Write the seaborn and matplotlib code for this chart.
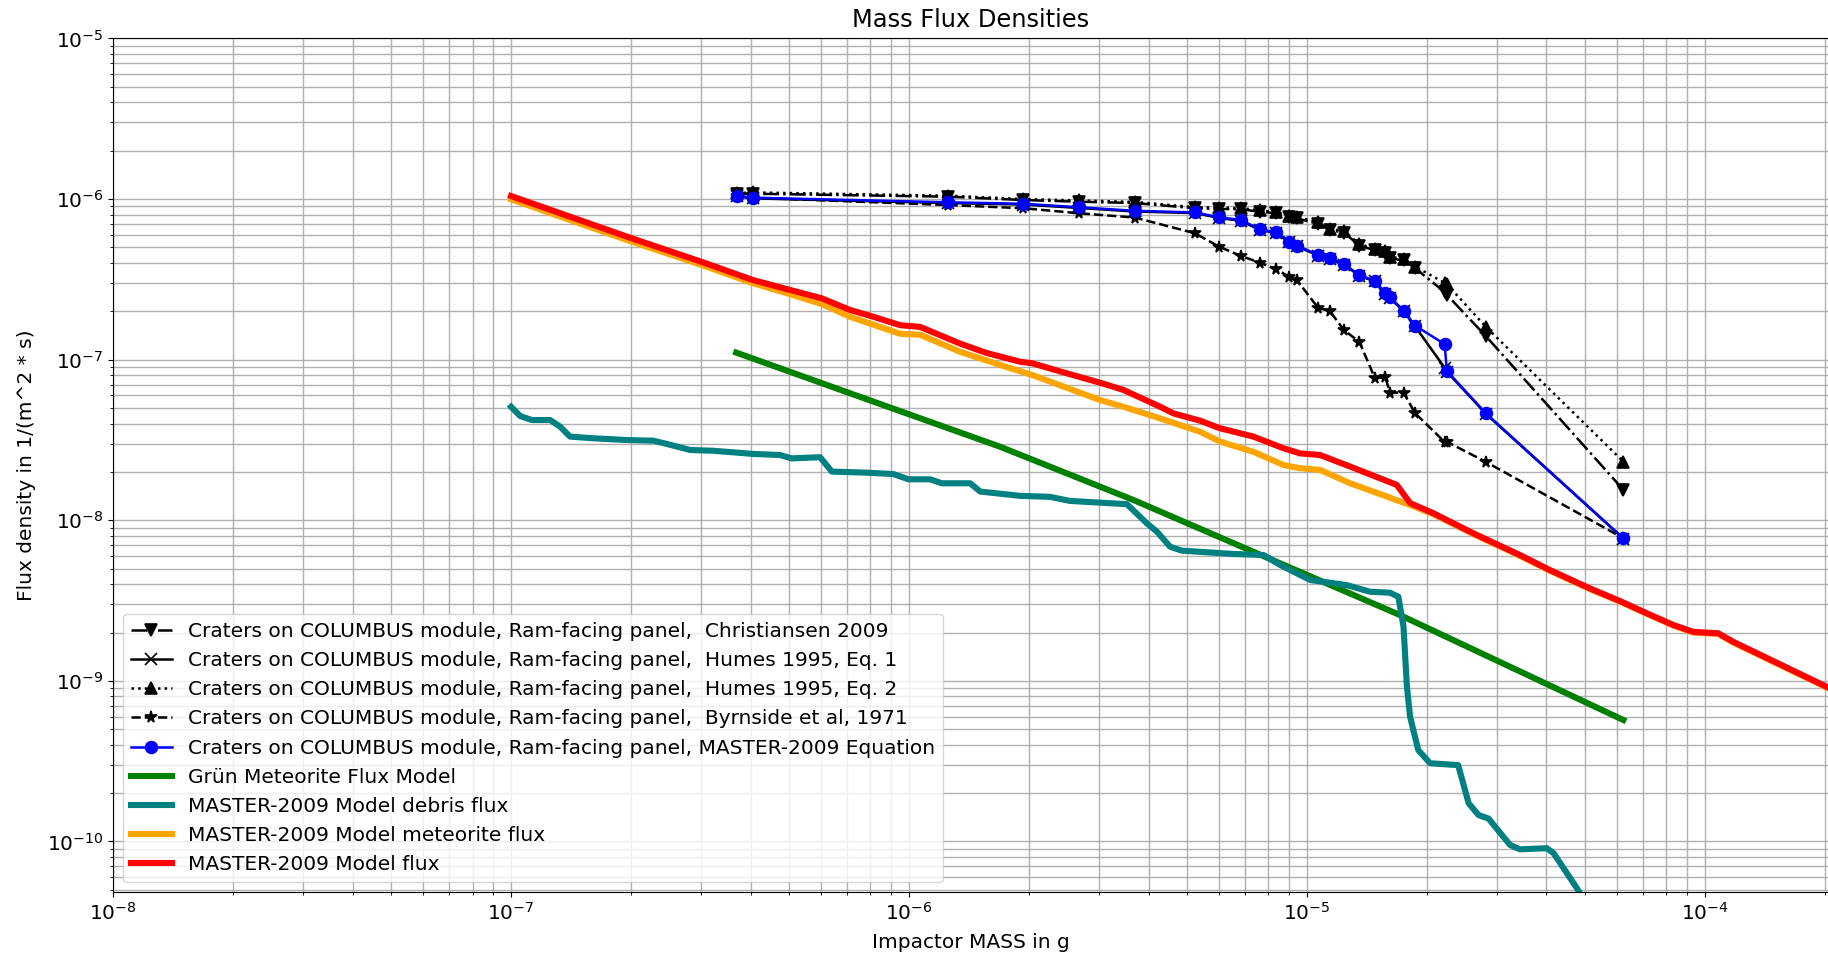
import matplotlib
matplotlib.use("Agg")
import matplotlib.pyplot as plt
import seaborn as sns

# ---- crater-derived series (shared mass values) ----
crater_mass = [3.69e-7, 4.06e-7, 1.256e-6, 1.94e-6, 2.68e-6, 3.70e-6, 5.24e-6, 6.01e-6,
               6.82e-6, 7.62e-6, 8.38e-6, 9.04e-6, 9.44e-6, 1.069e-5, 1.140e-5, 1.239e-5,
               1.355e-5, 1.483e-5, 1.574e-5, 1.618e-5, 1.750e-5, 1.871e-5, 2.218e-5,
               2.249e-5, 2.818e-5, 6.24e-5]
christiansen_flux = [1.08e-6, 1.08e-6, 1.035e-6, 9.86e-7, 9.63e-7, 9.45e-7, 8.77e-7, 8.68e-7,
                     8.64e-7, 8.35e-7, 8.16e-7, 7.77e-7, 7.59e-7, 7.00e-7, 6.42e-7, 6.18e-7,
                     5.14e-7, 4.79e-7, 4.62e-7, 4.28e-7, 4.15e-7, 3.71e-7, 2.64e-7, 2.53e-7,
                     1.40e-7, 1.55e-8]
humes1_flux = [1.04e-6, 1.01e-6, 9.45e-7, 9.25e-7, 8.8e-7, 8.37e-7, 8.18e-7, 7.63e-7,
               7.33e-7, 6.42e-7, 6.15e-7, 5.37e-7, 5.08e-7, 4.44e-7, 4.24e-7, 3.90e-7,
               3.33e-7, 3.07e-7, 2.56e-7, 2.42e-7, 2.0e-7, 1.61e-7, 8.93e-8, 8.4e-8,
               4.6e-8, 7.7e-9]
humes2_flux = [1.09e-6, 1.10e-6, 1.05e-6, 1.00e-6, 9.8e-7, 9.6e-7, 8.9e-7, 8.85e-7,
               8.8e-7, 8.5e-7, 8.3e-7, 7.9e-7, 7.75e-7, 7.15e-7, 6.55e-7, 6.3e-7,
               5.25e-7, 4.9e-7, 4.72e-7, 4.38e-7, 4.25e-7, 3.8e-7, 3.01e-7, 2.95e-7,
               1.60e-7, 2.32e-8]
byrnside_flux = [1.045e-6, 1.02e-6, 9.18e-7, 8.77e-7, 8.16e-7, 7.67e-7, 6.12e-7, 5.06e-7,
                 4.43e-7, 4.02e-7, 3.66e-7, 3.27e-7, 3.13e-7, 2.09e-7, 2.02e-7, 1.53e-7,
                 1.29e-7, 7.66e-8, 7.76e-8, 6.23e-8, 6.23e-8, 4.64e-8, 3.08e-8, 3.08e-8,
                 2.31e-8, 7.74e-9]
master_eq_flux = [1.045e-6, 1.02e-6, 9.55e-7, 9.35e-7, 8.89e-7, 8.45e-7, 8.26e-7, 7.71e-7,
                  7.41e-7, 6.49e-7, 6.21e-7, 5.43e-7, 5.13e-7, 4.49e-7, 4.28e-7, 3.94e-7,
                  3.37e-7, 3.10e-7, 2.59e-7, 2.45e-7, 2.02e-7, 1.63e-7, 1.25e-7, 8.51e-8,
                  4.63e-8, 7.73e-9]

# ---- Grün meteorite flux model ----
grun_mass = [3.68e-7, 7.11e-7, 1.695e-6, 3.66e-6, 1.714e-5, 6.24e-5]
grun_flux = [1.107e-7, 6.18e-8, 2.87e-8, 1.34e-8, 2.57e-9, 5.71e-10]

# ---- MASTER-2009 debris flux ----
debris_mass = [1.0e-7, 1.054e-7, 1.128e-7, 1.254e-7, 1.328e-7, 1.407e-7, 1.61e-7, 1.954e-7,
               2.28e-7, 2.46e-7, 2.82e-7, 3.22e-7, 4.06e-7, 4.74e-7, 5.07e-7, 5.98e-7,
               6.40e-7, 7.83e-7, 9.14e-7, 9.97e-7, 1.130e-6, 1.209e-6, 1.425e-6, 1.51e-6,
               1.90e-6, 2.26e-6, 2.54e-6, 3.53e-6, 3.96e-6, 4.20e-6, 4.53e-6, 4.85e-6,
               6.54e-6, 7.78e-6, 8.57e-6, 1.019e-5, 1.259e-5, 1.442e-5, 1.618e-5, 1.698e-5,
               1.749e-5, 1.784e-5, 1.817e-5, 1.905e-5, 2.04e-5, 2.40e-5, 2.55e-5, 2.70e-5,
               2.86e-5, 3.24e-5, 3.43e-5, 4.01e-5, 4.17e-5, 4.77e-5, 5.15e-5]
debris_flux = [5.09e-8, 4.46e-8, 4.21e-8, 4.21e-8, 3.83e-8, 3.32e-8, 3.24e-8, 3.16e-8,
               3.13e-8, 2.99e-8, 2.74e-8, 2.71e-8, 2.59e-8, 2.55e-8, 2.43e-8, 2.47e-8,
               2.01e-8, 1.98e-8, 1.94e-8, 1.80e-8, 1.80e-8, 1.70e-8, 1.70e-8, 1.51e-8,
               1.42e-8, 1.40e-8, 1.32e-8, 1.26e-8, 9.58e-9, 8.49e-9, 6.85e-9, 6.47e-9,
               6.17e-9, 6.08e-9, 5.27e-9, 4.25e-9, 3.95e-9, 3.59e-9, 3.54e-9, 3.34e-9,
               2.18e-9, 9.2e-10, 5.98e-10, 3.71e-10, 3.07e-10, 2.99e-10, 1.73e-10, 1.46e-10,
               1.39e-10, 9.52e-11, 8.94e-11, 9.08e-11, 8.45e-11, 5.12e-11, 3.75e-11]

# ---- MASTER-2009 meteorite flux ----
meteorite_mass = [1.0e-7, 2.01e-7, 3.01e-7, 4.06e-7, 5.02e-7, 6.04e-7, 7.11e-7, 9.5e-7,
                  1.067e-6, 1.344e-6, 1.695e-6, 2.04e-6, 3.02e-6, 3.46e-6, 4.28e-6, 5.39e-6,
                  6.05e-6, 7.34e-6, 8.73e-6, 9.61e-6, 1.079e-5, 1.285e-5, 1.817e-5, 2.08e-5,
                  2.62e-5, 3.43e-5, 4.08e-5, 5.14e-5, 6.18e-5, 7.14e-5, 8.33e-5, 9.35e-5,
                  1.081e-4, 1.18e-4, 2.1e-4]
meteorite_flux = [9.97e-7, 5.43e-7, 3.89e-7, 2.99e-7, 2.56e-7, 2.22e-7, 1.85e-7, 1.45e-7,
                  1.43e-7, 1.12e-7, 9.27e-8, 8.03e-8, 5.61e-8, 5.09e-8, 4.31e-8, 3.56e-8,
                  3.09e-8, 2.67e-8, 2.21e-8, 2.11e-8, 2.06e-8, 1.70e-8, 1.245e-8, 1.09e-8,
                  8.2e-9, 6.0e-9, 4.85e-9, 3.73e-9, 3.08e-9, 2.62e-9, 2.21e-9, 2.0e-9,
                  1.96e-9, 1.73e-9, 8.7e-10]

# ---- MASTER-2009 total model flux ----
model_mass = [1.0e-7, 2.01e-7, 3.01e-7, 4.06e-7, 5.02e-7, 6.04e-7, 7.11e-7, 8.14e-7,
              9.5e-7, 1.067e-6, 1.344e-6, 1.569e-6, 1.90e-6, 2.04e-6, 2.49e-6, 3.02e-6,
              3.46e-6, 4.28e-6, 4.62e-6, 5.39e-6, 6.05e-6, 7.34e-6, 8.73e-6, 9.61e-6,
              1.079e-5, 1.285e-5, 1.683e-5, 1.817e-5, 2.08e-5, 2.62e-5, 3.43e-5, 4.08e-5,
              5.14e-5, 6.18e-5, 7.14e-5, 8.33e-5, 9.35e-5, 1.081e-4, 1.18e-4, 2.1e-4]
model_flux = [1.045e-6, 5.70e-7, 4.07e-7, 3.13e-7, 2.72e-7, 2.41e-7, 2.04e-7, 1.85e-7,
              1.64e-7, 1.60e-7, 1.26e-7, 1.10e-7, 9.72e-8, 9.5e-8, 8.23e-8, 7.19e-8,
              6.48e-8, 5.09e-8, 4.63e-8, 4.17e-8, 3.74e-8, 3.32e-8, 2.81e-8, 2.61e-8,
              2.55e-8, 2.16e-8, 1.66e-8, 1.28e-8, 1.106e-8, 8.3e-9, 6.08e-9, 4.9e-9,
              3.77e-9, 3.11e-9, 2.64e-9, 2.23e-9, 2.02e-9, 1.98e-9, 1.75e-9, 8.8e-10]

x_ticks = [1e-8, 1e-7, 1e-6, 1e-5, 1e-4]
y_ticks = [1e-10, 1e-9, 1e-8, 1e-7, 1e-6, 1e-5]

labels = [
    "Craters on COLUMBUS module, Ram-facing panel,  Christiansen 2009",
    "Craters on COLUMBUS module, Ram-facing panel,  Humes 1995, Eq. 1",
    "Craters on COLUMBUS module, Ram-facing panel,  Humes 1995, Eq. 2",
    "Craters on COLUMBUS module, Ram-facing panel,  Byrnside et al, 1971",
    "Craters on COLUMBUS module, Ram-facing panel, MASTER-2009 Equation",
    "Grün Meteorite Flux Model",
    "MASTER-2009 Model debris flux",
    "MASTER-2009 Model meteorite flux",
    "MASTER-2009 Model flux",
]

plt.rcParams['font.family'] = ['DejaVu Sans']
plt.rcParams['font.size'] = 14.5

fig = plt.figure(figsize=(18.28, 9.55), dpi=100)
ax = fig.add_axes([0.0619, 0.0660, 0.9381, 0.8937])
ax.set_xscale('log')
ax.set_yscale('log')

series = [
    (crater_mass, christiansen_flux, dict(color='black', ls='-.', marker='v', lw=1.8, ms=8.5)),
    (crater_mass, humes1_flux, dict(color='black', ls='-', marker='x', lw=1.8, ms=8.5)),
    (crater_mass, humes2_flux, dict(color='black', ls=':', marker='^', lw=1.8, ms=8.5)),
    (crater_mass, byrnside_flux, dict(color='black', ls='--', marker='*', lw=1.8, ms=8.5)),
    (crater_mass, master_eq_flux, dict(color='blue', ls='-', marker='o', lw=1.8, ms=8.5)),
    (grun_mass, grun_flux, dict(color='green', ls='-', lw=4.4)),
    (debris_mass, debris_flux, dict(color='teal', ls='-', lw=4.4)),
    (meteorite_mass, meteorite_flux, dict(color='orange', ls='-', lw=4.4)),
    (model_mass, model_flux, dict(color='red', ls='-', lw=4.4)),
]

for (xs, ys, kw), lab in zip(series, labels):
    extra = {}
    if 'marker' in kw:
        extra = dict(mec=kw['color'], mfc=kw['color'], mew=1.2)
    sns.lineplot(x=xs, y=ys, ax=ax, estimator=None, sort=False, label=lab, **kw, **extra)

ax.set_xlim(1e-8, 2.04e-4)
ax.set_ylim(4.85e-11, 1e-5)
ax.set_xticks(x_ticks)
ax.set_yticks(y_ticks)
ax.grid(True, which='both', color='#b0b0b0', lw=1.0)
ax.spines['right'].set_visible(False)
ax.set_title("Mass Flux Densities", pad=8)
ax.set_xlabel("Impactor MASS in g", labelpad=7)
ax.set_ylabel("Flux density in 1/(m^2 * s)", labelpad=8)
ax.legend(loc='lower left')

fig.savefig("out.png", dpi=100)
